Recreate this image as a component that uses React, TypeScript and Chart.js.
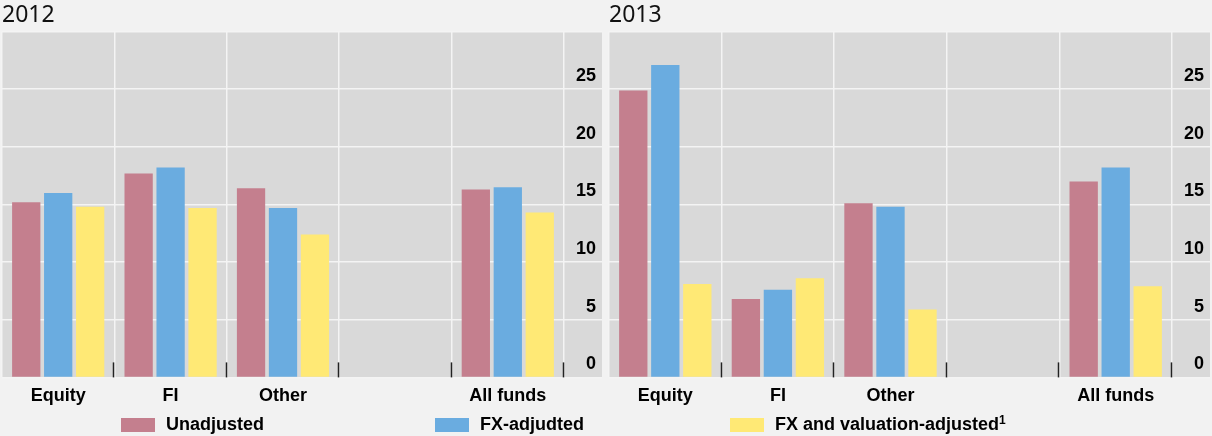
import React, { useEffect, useRef } from "react";
import { Chart, registerables } from "chart.js";
Chart.register(...registerables);

const categories = ["Equity", "FI", "Other", "", "All funds"];
const seriesNames = ["Unadjusted", "FX-adjudted", "FX and valuation-adjusted"];
const seriesColors = ["#C47F8E", "#6AACE0", "#FFE975"];

const unadjusted2012 = [15.2, 17.7, 16.4, null, 16.3];
const fxAdjusted2012 = [16.0, 18.2, 14.7, null, 16.5];
const fxValAdjusted2012 = [14.8, 14.7, 12.4, null, 14.3];

const unadjusted2013 = [24.9, 6.8, 15.1, null, 17.0];
const fxAdjusted2013 = [27.1, 7.6, 14.8, null, 18.2];
const fxValAdjusted2013 = [8.1, 8.6, 5.9, null, 7.9];

const yTicks = [0, 5, 10, 15, 20, 25];
const yMax = 30;

const GRID = "#f4f4f4";
const PLOT_BG = "#d9d9d9";
const PAGE_BG = "#f2f2f2";
const BOLD = { family: "Arial, 'Liberation Sans', sans-serif", size: 18, weight: "bold" as const };
const LABEL_GAP = 6;

const bgPlugin = {
  id: "plotBg",
  beforeDraw(chart: any) {
    const { ctx, chartArea } = chart;
    const ys = chart.scales.y;
    ctx.save();
    ctx.fillStyle = PLOT_BG;
    ctx.fillRect(chartArea.left, chartArea.top, ys.right + LABEL_GAP - chartArea.left, chartArea.bottom - chartArea.top);
    ctx.restore();
  },
};

const tickMarkPlugin = {
  id: "tickMarks",
  afterDraw(chart: any) {
    const { ctx, chartArea } = chart;
    const xs = chart.scales.x;
    const n = xs.getLabels().length;
    const w = (chartArea.right - chartArea.left) / n;
    ctx.save();
    ctx.strokeStyle = "#222";
    ctx.lineWidth = 1.5;
    for (let k = 1; k <= n; k++) {
      const x = Math.round(chartArea.left + k * w) - 0.5;
      ctx.beginPath();
      ctx.moveTo(x, chartArea.bottom - 15);
      ctx.lineTo(x, chartArea.bottom);
      ctx.stroke();
    }
    ctx.restore();
  },
};

function Panel(props: { title: string; series: (number | null)[][]; padRight: number }) {
  const ref = useRef<HTMLCanvasElement>(null);
  useEffect(() => {
    if (!ref.current) return;
    const chart = new Chart(ref.current, {
      type: "bar",
      data: {
        labels: categories,
        datasets: props.series.map((d, i) => ({
          label: seriesNames[i],
          data: d,
          backgroundColor: seriesColors[i],
          borderWidth: 0,
          categoryPercentage: 0.853,
          barPercentage: 0.885,
        })),
      },
      options: {
        responsive: false,
        animation: false,
        layout: { padding: { left: 2, right: props.padRight + LABEL_GAP, top: 0, bottom: 0 } },
        plugins: {
          legend: { display: false },
          tooltip: { enabled: false },
          title: {
            display: true,
            text: props.title,
            align: "start",
            color: "#111",
            font: { family: "'Noto Sans', 'Open Sans', sans-serif", size: 23, weight: "normal" },
            padding: { top: 2, bottom: 2 },
          },
        },
        scales: {
          x: {
            offset: true,
            grid: { offset: true, color: GRID, lineWidth: 1.5, drawTicks: false },
            border: { display: false },
            ticks: { font: BOLD, color: "#000", padding: 8, maxRotation: 0, autoSkip: false },
          },
          y: {
            position: "right",
            min: 0,
            max: yMax,
            afterBuildTicks: (s: any) => {
              s.ticks = [...yTicks, yMax].map((v) => ({ value: v }));
            },
            afterFit: (s: any) => {
              s.width = 38 - LABEL_GAP;
            },
            grid: { color: GRID, lineWidth: 1.5, drawTicks: true, tickLength: 38, tickColor: GRID },
            border: { display: false },
            ticks: {
              font: BOLD,
              color: "#000",
              crossAlign: "far",
              padding: 0,
              labelOffset: -13,
              callback: (v: any) => (yTicks.includes(Number(v)) ? String(v) : ""),
            },
          },
        },
      } as any,
      plugins: [bgPlugin, tickMarkPlugin],
    });
    return () => chart.destroy();
  }, []);
  return <canvas ref={ref} width={604} height={415} style={{ display: "block" }} />;
}

function LegendItem(props: { color: string; left: number; text: string; sup?: string }) {
  return (
    <div style={{ position: "absolute", left: props.left, top: 414, height: 20, whiteSpace: "nowrap" }}>
      <div style={{ position: "absolute", left: 0, top: 4, width: 34, height: 14, background: props.color }} />
      <div
        style={{
          position: "absolute",
          left: 45,
          top: 0,
          font: "bold 18px Arial, 'Liberation Sans', sans-serif",
          lineHeight: "20px",
          color: "#000",
        }}
      >
        {props.text}
        {props.sup ? <sup style={{ fontSize: 12, verticalAlign: "6px", lineHeight: 0 }}>{props.sup}</sup> : null}
      </div>
    </div>
  );
}

export default function App() {
  useEffect(() => {
    document.body.style.margin = "0";
    document.body.style.background = PAGE_BG;
  }, []);
  return (
    <div style={{ position: "relative", width: 1212, height: 436, background: PAGE_BG, overflow: "hidden" }}>
      <div style={{ position: "absolute", left: 0, top: 0 }}>
        <Panel title="2012" series={[unadjusted2012, fxAdjusted2012, fxValAdjusted2012]} padRight={2} />
      </div>
      <div style={{ position: "absolute", left: 607, top: 0 }}>
        <Panel title="2013" series={[unadjusted2013, fxAdjusted2013, fxValAdjusted2013]} padRight={1} />
      </div>
      <LegendItem color={seriesColors[0]} left={121} text={seriesNames[0]} />
      <LegendItem color={seriesColors[1]} left={435} text={seriesNames[1]} />
      <LegendItem color={seriesColors[2]} left={730} text={seriesNames[2]} sup="1" />
    </div>
  );
}
